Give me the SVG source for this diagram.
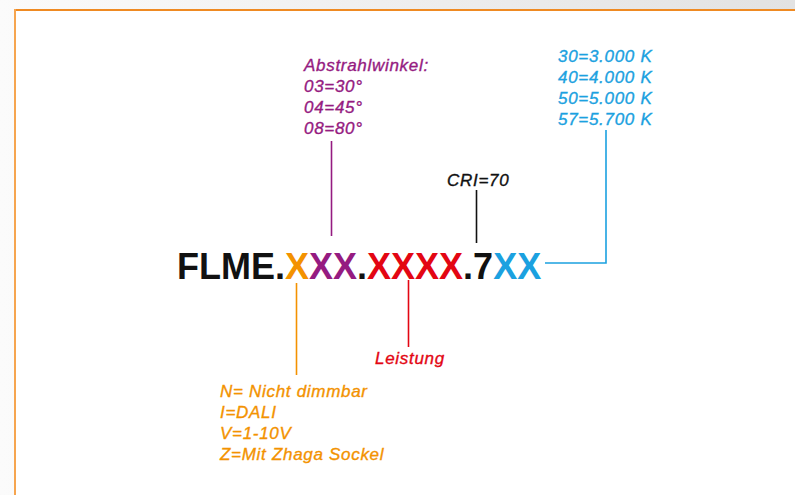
<svg xmlns="http://www.w3.org/2000/svg" width="795" height="495" viewBox="0 0 795 495">
  <defs>
    <linearGradient id="bg" x1="0" y1="0" x2="1" y2="0">
      <stop offset="0" stop-color="#fbfbfb"/>
      <stop offset="1" stop-color="#e2e2e2"/>
    </linearGradient>
  </defs>
  <style>
    .lbl { font-family: "Liberation Sans", Arial, sans-serif; font-style: italic; font-size: 17px; letter-spacing: 0.7px; stroke-width: 0.35px; }
    .code { font-family: "Liberation Sans", Arial, sans-serif; font-weight: bold; font-size: 36px; }
    .orange { fill: #f39200; stroke: #f39200; }
    .purple { fill: #951b81; stroke: #951b81; }
    .red { fill: #e30613; stroke: #e30613; }
    .blue { fill: #1ba1e0; stroke: #1ba1e0; }
    .black { fill: #111111; stroke: #111111; }
    .con line, .con polyline { fill: none; stroke-width: 1.6; }
  </style>
  <rect x="0" y="0" width="795" height="495" fill="url(#bg)"/>
  <rect x="15" y="10" width="790" height="500" fill="#ffffff"/>
  <line x1="15" y1="10" x2="795" y2="10" stroke="#ef8a22" stroke-width="2"/>
  <line x1="15" y1="9" x2="15" y2="495" stroke="#f6a54f" stroke-width="2"/>

  <g id="code">
    <text class="code" x="177" y="279"><tspan fill="#111111">FLME.</tspan><tspan fill="#f39200">X</tspan><tspan fill="#951b81">XX</tspan><tspan fill="#111111">.</tspan><tspan fill="#e30613">XXXX</tspan><tspan fill="#111111">.7</tspan><tspan fill="#1ba1e0">XX</tspan></text>
  </g>

  <g id="connectors" class="con">
    <line x1="331.5" y1="141" x2="331.5" y2="236" stroke="#951b81"/>
    <line x1="296.5" y1="283" x2="296.5" y2="375" stroke="#f39200"/>
    <line x1="408.5" y1="280" x2="408.5" y2="347" stroke="#e30613"/>
    <line x1="476.5" y1="190" x2="476.5" y2="243" stroke="#111111"/>
    <polyline points="545,263 606,263 606,130" stroke="#1ba1e0"/>
  </g>

  <g id="beam-angle" class="lbl purple">
    <text x="304" y="71">Abstrahlwinkel:</text>
    <text x="304" y="92">03=30°</text>
    <text x="304" y="113">04=45°</text>
    <text x="304" y="134">08=80°</text>
  </g>

  <g id="colour-temp" class="lbl blue">
    <text x="558" y="62">30=3.000 K</text>
    <text x="558" y="83">40=4.000 K</text>
    <text x="558" y="104">50=5.000 K</text>
    <text x="558" y="125">57=5.700 K</text>
  </g>

  <g id="cri" class="lbl black">
    <text x="447" y="186">CRI=70</text>
  </g>

  <g id="power" class="lbl red">
    <text x="375" y="364">Leistung</text>
  </g>

  <g id="dimming" class="lbl orange">
    <text x="220" y="397">N= Nicht dimmbar</text>
    <text x="220" y="418">I=DALI</text>
    <text x="220" y="439">V=1-10V</text>
    <text x="220" y="460">Z=Mit Zhaga Sockel</text>
  </g>
</svg>
